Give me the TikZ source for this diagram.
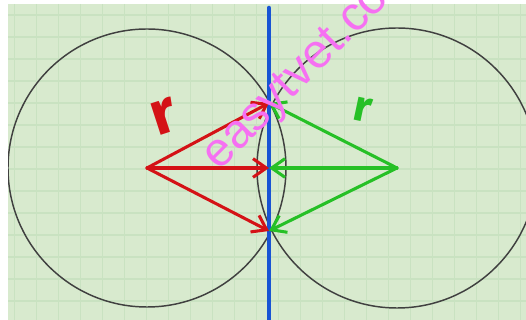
\documentclass[tikz,border=0pt]{standalone}
\usepackage{fontspec}
\newfontfamily\markfont{Liberation Sans}
\newfontfamily\rfont{Fira Sans}
\usetikzlibrary{arrows.meta}
\definecolor{paper}{RGB}{216,234,206}
\definecolor{gridline}{RGB}{201,226,193}
\definecolor{rred}{RGB}{212,18,22}
\definecolor{rgreen}{RGB}{38,192,38}
\definecolor{axisblue}{RGB}{24,84,212}
\definecolor{wmark}{RGB}{246,112,242}

\begin{document}
\begin{tikzpicture}[x=0.75pt,y=-0.75pt,>={Straight Barb[length=10pt,width=14pt]},
  rline/.style={->,line width=2.3pt,line cap=round,line join=round},
  circ/.style={draw=black!75,line width=1.1pt}]
 \useasboundingbox (0,0) rectangle (526,320);
 \fill[paper] (8,4) rectangle (526,320);
 \begin{scope}
  \clip (8,4) rectangle (526,320);
  \foreach \gx in {14.7,36.7,...,526} \draw[gridline,line width=1pt] (\gx,4)--(\gx,320);
  \foreach \gy in {15,37,...,320} \draw[gridline,line width=1pt] (8,\gy)--(526,\gy);
  \coordinate (cl) at (147,168);
  \coordinate (cr) at (397,168);
  \draw[circ] (cl) circle (139);
  \draw[circ] (cr) circle (140);
 \end{scope}
 % the three points on the line
 \coordinate (top) at (269,103);
 \coordinate (mid) at (269,168);
 \coordinate (bot) at (269,231);
 \coordinate (lineend) at (269,8);
 \coordinate (linefoot) at (269,322);
 \draw[axisblue,line width=3.4pt,line cap=round] (lineend)--(linefoot);
 \foreach \p in {top,mid,bot} \draw[rline,rred] (cl)--(\p);
 \foreach \p in {top,mid,bot} \draw[rline,rgreen] (cr)--(\p);
 \node[rred,rotate=18,scale=1.55] (rleft) at (164,117) {\rfont\bfseries\fontsize{30}{30}\selectfont r};
 \node[rgreen,rotate=-12,scale=1.1] (rright) at (363,110) {\rfont\bfseries\fontsize{30}{30}\selectfont r};
 \begin{scope}
  \clip (0,0) rectangle (526,320);
  \node[wmark,rotate=45,anchor=base west,inner sep=0pt] (site) at (219,172)
   {\markfont\fontsize{36}{36}\selectfont easytvet.com};
 \end{scope}
\end{tikzpicture}
\end{document}
